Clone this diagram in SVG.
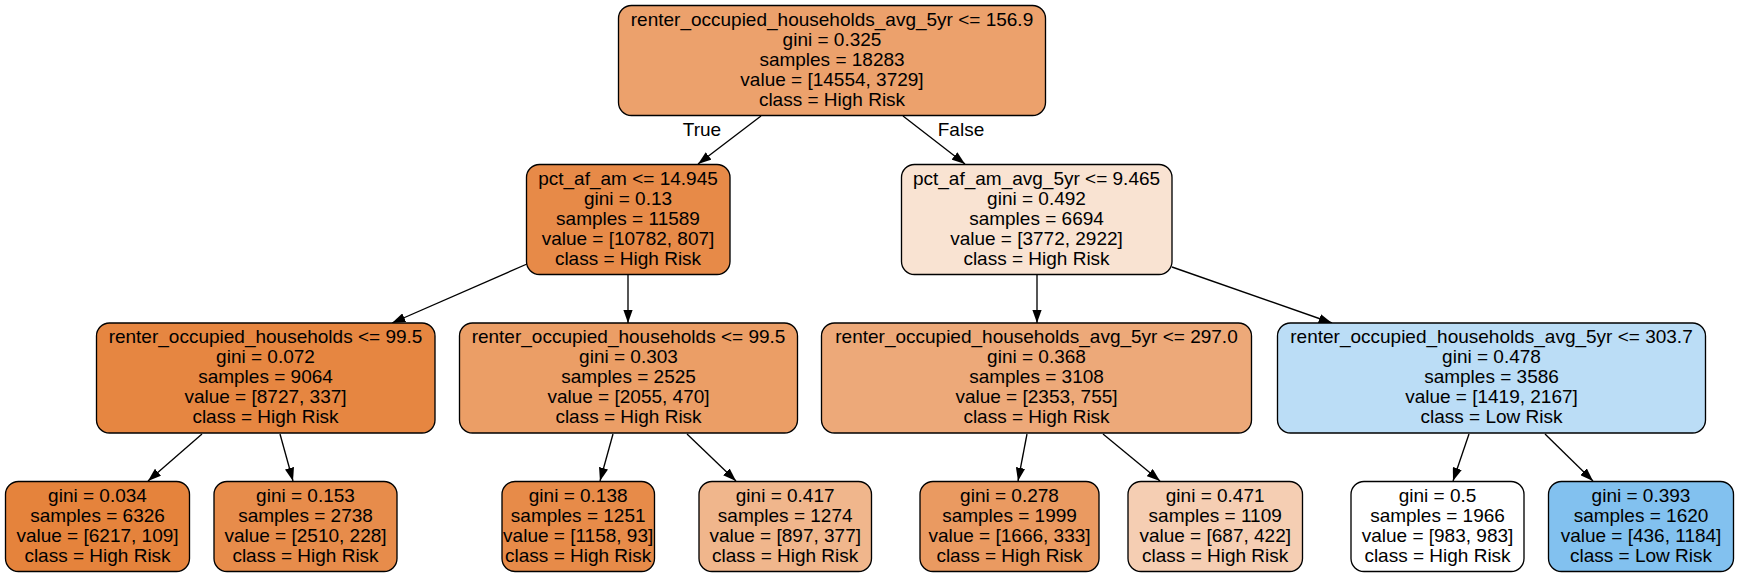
<svg xmlns="http://www.w3.org/2000/svg" width="1737" height="577" viewBox="0 0 1737 577">
<style>
.n rect{stroke:#000;stroke-width:1.33}
text{font-family:"Liberation Sans",Arial,Helvetica,sans-serif;font-size:19px;fill:#000;text-anchor:middle}
.e line{stroke:#000;stroke-width:1.33;marker-end:url(#ah)}
</style>
<defs>
<marker id="ah" viewBox="0 0 13.3 9.4" refX="13.3" refY="4.7" markerWidth="13.3" markerHeight="9.4" markerUnits="userSpaceOnUse" orient="auto">
<path d="M0,0 L13.3,4.7 L0,9.4 Z" fill="#000"/>
</marker>
</defs>
<rect width="1737" height="577" fill="#fff"/>
<g id="edges" class="e">
<line x1="761" y1="116" x2="698" y2="164"/>
<line x1="903" y1="116" x2="965" y2="164"/>
<line x1="527" y1="264" x2="392" y2="323"/>
<line x1="628" y1="275" x2="628" y2="323"/>
<line x1="1037" y1="275" x2="1037" y2="323"/>
<line x1="1172" y1="267" x2="1332" y2="323"/>
<line x1="202" y1="434" x2="148" y2="481"/>
<line x1="280" y1="434" x2="293" y2="481"/>
<line x1="613" y1="434" x2="600" y2="481"/>
<line x1="687" y1="434" x2="736" y2="481"/>
<line x1="1027" y1="434" x2="1018" y2="481"/>
<line x1="1103" y1="434" x2="1160" y2="481"/>
<line x1="1469" y1="434" x2="1453" y2="481"/>
<line x1="1545" y1="434" x2="1593" y2="481"/>
<text x="702" y="136">True</text>
<text x="961" y="136">False</text>
</g>
<g id="n0" class="n">
<rect x="618.5" y="5.5" width="427" height="110" rx="13" fill="#eca16c"/>
<text x="832" y="26">renter_occupied_households_avg_5yr &lt;= 156.9</text>
<text x="832" y="46">gini = 0.325</text>
<text x="832" y="66">samples = 18283</text>
<text x="832" y="86">value = [14554, 3729]</text>
<text x="832" y="106">class = High Risk</text>
</g>
<g id="n1" class="n">
<rect x="526.5" y="164.5" width="203.5" height="110" rx="13" fill="#e78a48"/>
<text x="628" y="184.5">pct_af_am &lt;= 14.945</text>
<text x="628" y="204.5">gini = 0.13</text>
<text x="628" y="224.5">samples = 11589</text>
<text x="628" y="244.5">value = [10782, 807]</text>
<text x="628" y="264.5">class = High Risk</text>
</g>
<g id="n2" class="n">
<rect x="901.5" y="164.5" width="270.5" height="110" rx="13" fill="#f9e3d2"/>
<text x="1036.5" y="184.5">pct_af_am_avg_5yr &lt;= 9.465</text>
<text x="1036.5" y="204.5">gini = 0.492</text>
<text x="1036.5" y="224.5">samples = 6694</text>
<text x="1036.5" y="244.5">value = [3772, 2922]</text>
<text x="1036.5" y="264.5">class = High Risk</text>
</g>
<g id="n3" class="n">
<rect x="96.5" y="323" width="338.5" height="110" rx="13" fill="#e68641"/>
<text x="265.5" y="343">renter_occupied_households &lt;= 99.5</text>
<text x="265.5" y="363">gini = 0.072</text>
<text x="265.5" y="383">samples = 9064</text>
<text x="265.5" y="403">value = [8727, 337]</text>
<text x="265.5" y="423">class = High Risk</text>
</g>
<g id="n4" class="n">
<rect x="459.5" y="323" width="338" height="110" rx="13" fill="#eb9e66"/>
<text x="628.5" y="343">renter_occupied_households &lt;= 99.5</text>
<text x="628.5" y="363">gini = 0.303</text>
<text x="628.5" y="383">samples = 2525</text>
<text x="628.5" y="403">value = [2055, 470]</text>
<text x="628.5" y="423">class = High Risk</text>
</g>
<g id="n5" class="n">
<rect x="821.5" y="323" width="430" height="110" rx="13" fill="#eda979"/>
<text x="1036.5" y="343">renter_occupied_households_avg_5yr &lt;= 297.0</text>
<text x="1036.5" y="363">gini = 0.368</text>
<text x="1036.5" y="383">samples = 3108</text>
<text x="1036.5" y="403">value = [2353, 755]</text>
<text x="1036.5" y="423">class = High Risk</text>
</g>
<g id="n6" class="n">
<rect x="1277.5" y="323" width="428" height="110" rx="13" fill="#bbddf6"/>
<text x="1491.5" y="343">renter_occupied_households_avg_5yr &lt;= 303.7</text>
<text x="1491.5" y="363">gini = 0.478</text>
<text x="1491.5" y="383">samples = 3586</text>
<text x="1491.5" y="403">value = [1419, 2167]</text>
<text x="1491.5" y="423">class = Low Risk</text>
</g>
<g id="n7" class="n">
<rect x="5.5" y="481.5" width="184" height="90" rx="13" fill="#e5833c"/>
<text x="97.5" y="502">gini = 0.034</text>
<text x="97.5" y="522">samples = 6326</text>
<text x="97.5" y="542">value = [6217, 109]</text>
<text x="97.5" y="562">class = High Risk</text>
</g>
<g id="n8" class="n">
<rect x="214" y="481.5" width="183" height="90" rx="13" fill="#e78c4b"/>
<text x="305.5" y="502">gini = 0.153</text>
<text x="305.5" y="522">samples = 2738</text>
<text x="305.5" y="542">value = [2510, 228]</text>
<text x="305.5" y="562">class = High Risk</text>
</g>
<g id="n9" class="n">
<rect x="502" y="481.5" width="152.5" height="90" rx="13" fill="#e78b49"/>
<text x="578.2" y="502">gini = 0.138</text>
<text x="578.2" y="522">samples = 1251</text>
<text x="578.2" y="542">value = [1158, 93]</text>
<text x="578.2" y="562">class = High Risk</text>
</g>
<g id="n10" class="n">
<rect x="699" y="481.5" width="172.5" height="90" rx="13" fill="#f0b68c"/>
<text x="785.2" y="502">gini = 0.417</text>
<text x="785.2" y="522">samples = 1274</text>
<text x="785.2" y="542">value = [897, 377]</text>
<text x="785.2" y="562">class = High Risk</text>
</g>
<g id="n11" class="n">
<rect x="920" y="481.5" width="179" height="90" rx="13" fill="#ea9a61"/>
<text x="1009.5" y="502">gini = 0.278</text>
<text x="1009.5" y="522">samples = 1999</text>
<text x="1009.5" y="542">value = [1666, 333]</text>
<text x="1009.5" y="562">class = High Risk</text>
</g>
<g id="n12" class="n">
<rect x="1128" y="481.5" width="174.5" height="90" rx="13" fill="#f5ceb3"/>
<text x="1215.2" y="502">gini = 0.471</text>
<text x="1215.2" y="522">samples = 1109</text>
<text x="1215.2" y="542">value = [687, 422]</text>
<text x="1215.2" y="562">class = High Risk</text>
</g>
<g id="n13" class="n">
<rect x="1351" y="481.5" width="173" height="90" rx="13" fill="#ffffff"/>
<text x="1437.5" y="502">gini = 0.5</text>
<text x="1437.5" y="522">samples = 1966</text>
<text x="1437.5" y="542">value = [983, 983]</text>
<text x="1437.5" y="562">class = High Risk</text>
</g>
<g id="n14" class="n">
<rect x="1548.5" y="481.5" width="185" height="90" rx="13" fill="#82c1ef"/>
<text x="1641" y="502">gini = 0.393</text>
<text x="1641" y="522">samples = 1620</text>
<text x="1641" y="542">value = [436, 1184]</text>
<text x="1641" y="562">class = Low Risk</text>
</g>
</svg>
